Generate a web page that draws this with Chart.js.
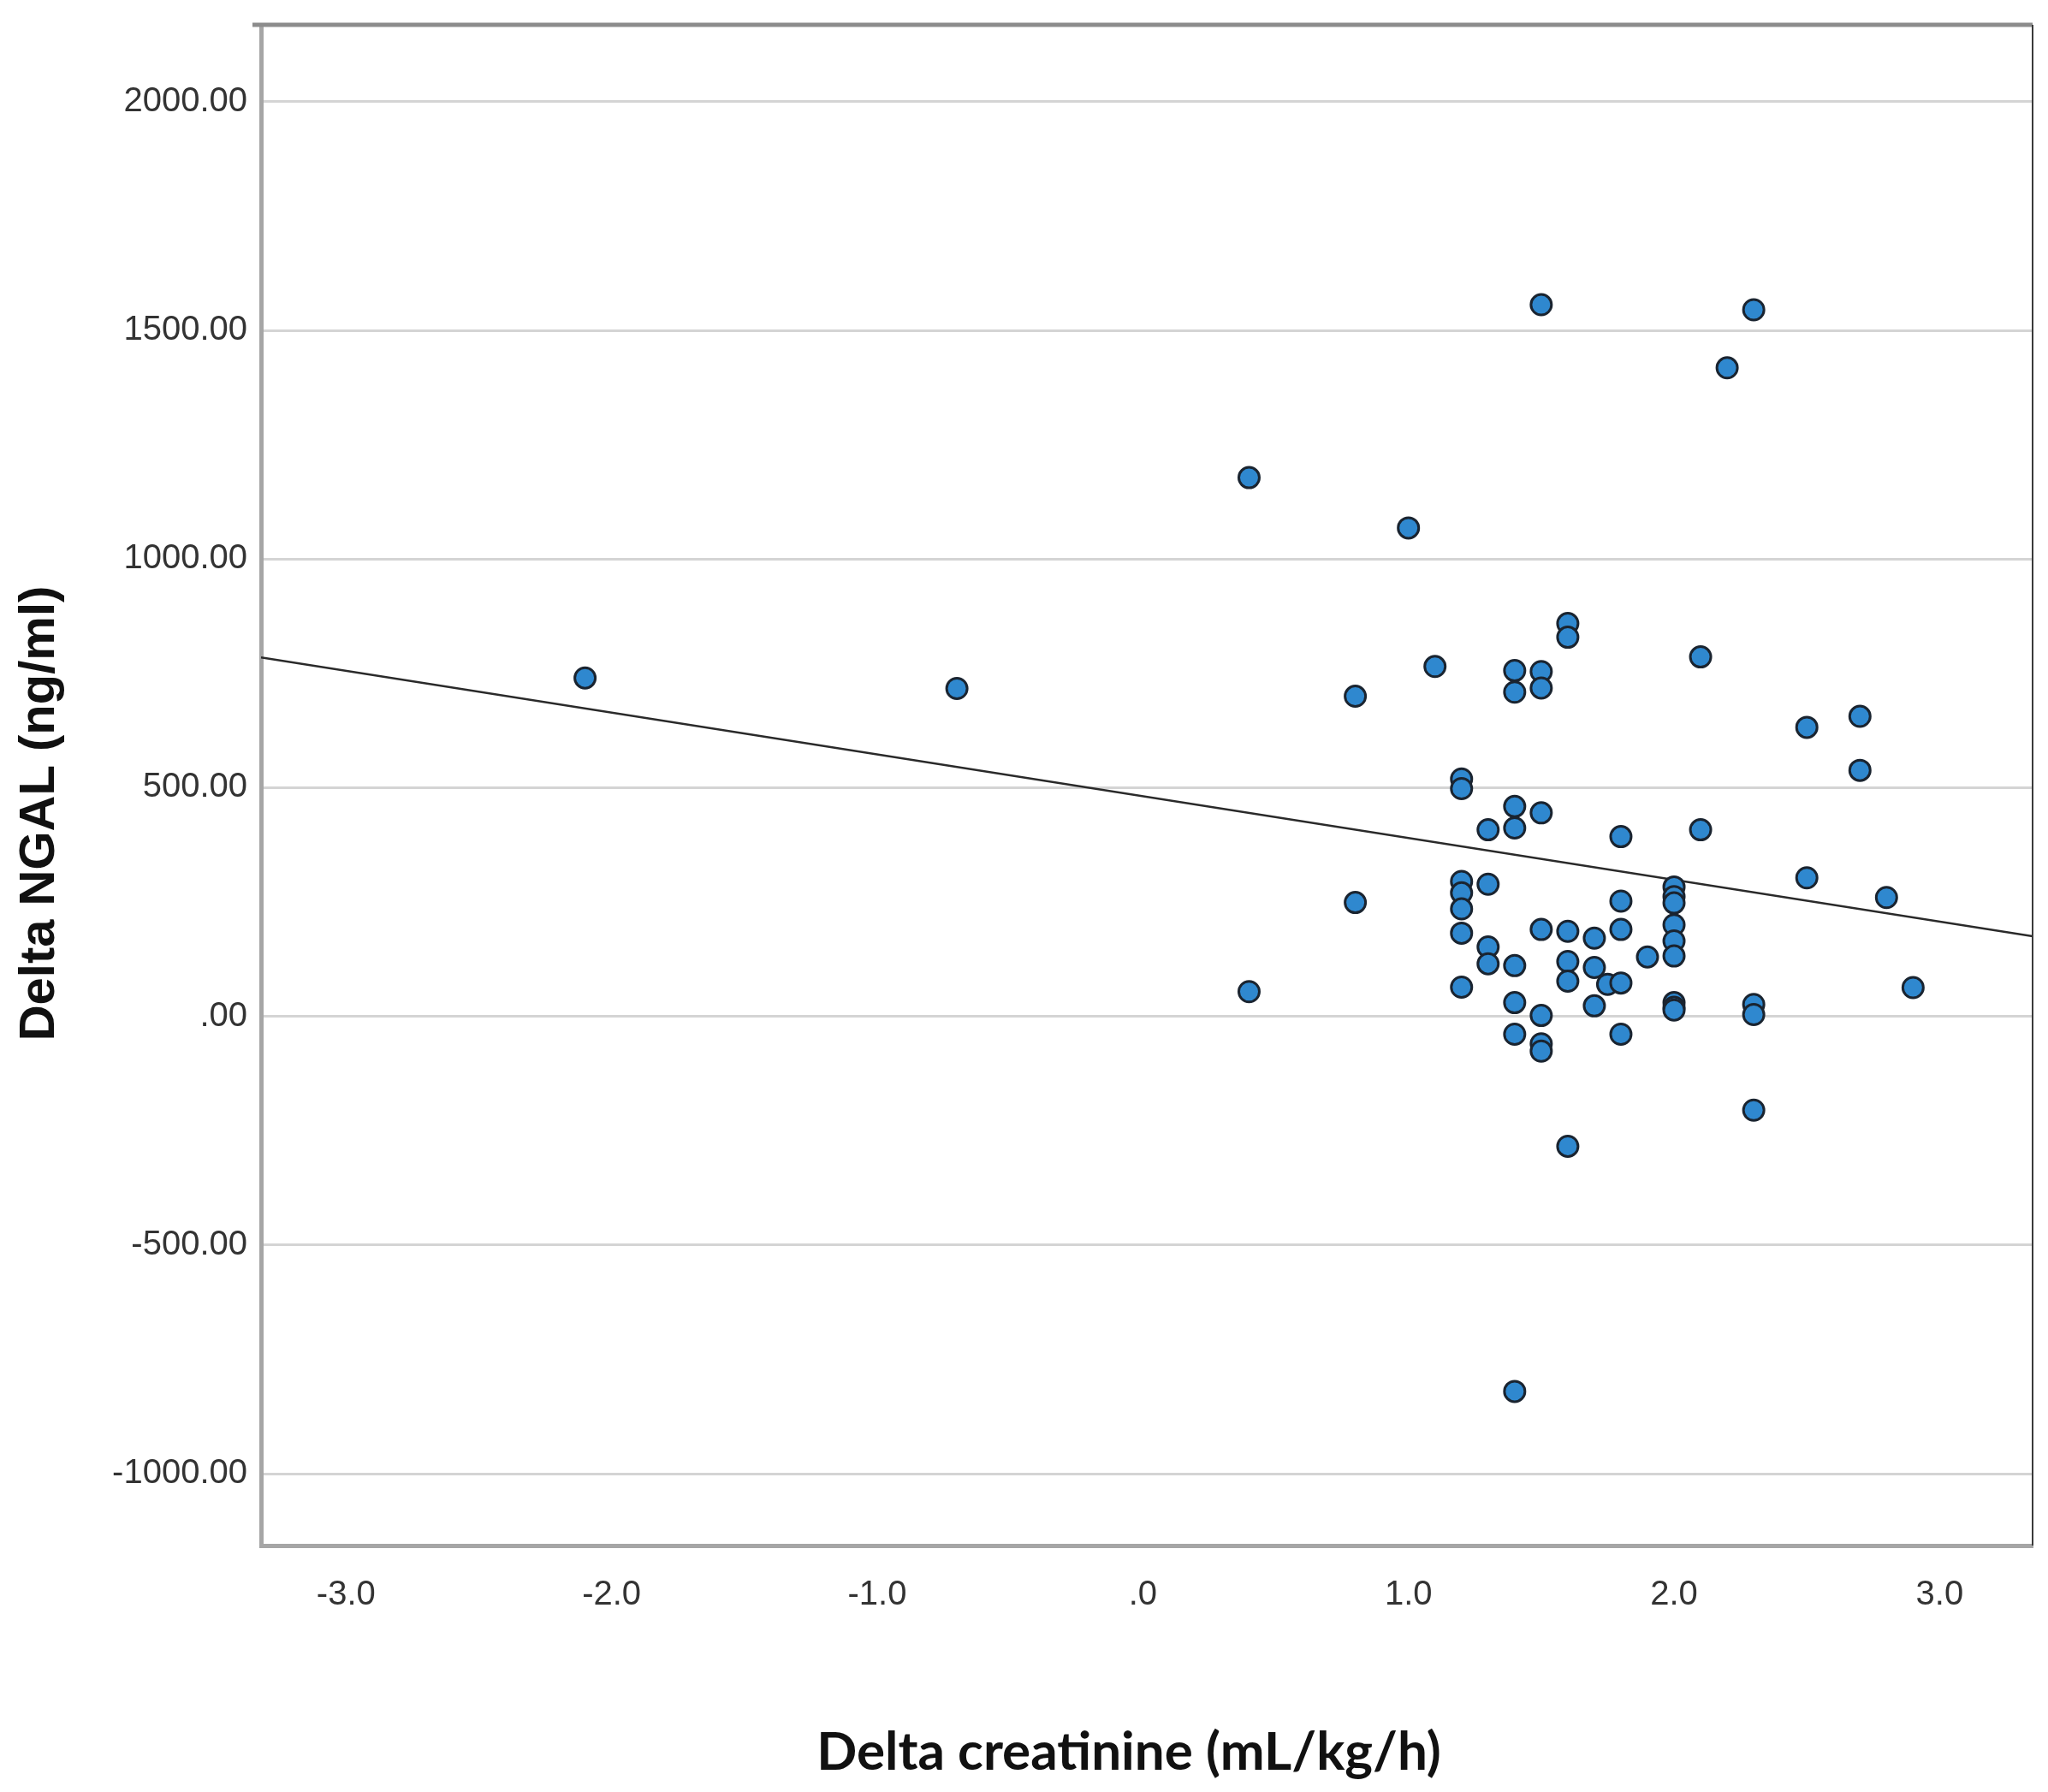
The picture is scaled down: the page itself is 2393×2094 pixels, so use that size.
<!DOCTYPE html>
<html>
<head>
<meta charset="utf-8">
<script src="https://cdn.jsdelivr.net/npm/chart.js@4.4.0/dist/chart.umd.min.js"></script>
<style>
  html, body { margin: 0; padding: 0; background: #ffffff; }
  canvas { display: block; }
</style>
</head>
<body>
<canvas id="c" width="2393" height="2094"></canvas>
<script>
// ---- data ----
const creatX = [
  -2.1, -0.7, 0.4, 0.4, 0.8, 0.8, 1.0, 1.1,
  1.2, 1.2, 1.2, 1.2, 1.2, 1.2, 1.2,
  1.3, 1.3, 1.3, 1.3,
  1.4, 1.4, 1.4, 1.4, 1.4, 1.4, 1.4, 1.4,
  1.5, 1.5, 1.5, 1.5, 1.5, 1.5, 1.5, 1.5,
  1.6, 1.6, 1.6, 1.6, 1.6, 1.6,
  1.7, 1.7, 1.7,
  1.75,
  1.8, 1.8, 1.8, 1.8, 1.8,
  1.9,
  2.0, 2.0, 2.0, 2.0, 2.0, 2.0, 2.0, 2.0, 2.0,
  2.1, 2.1,
  2.2,
  2.3, 2.3, 2.3, 2.3,
  2.5, 2.5,
  2.7, 2.7,
  2.8,
  2.9
];
const ngalY = [
  740, 717, 1178, 54, 700, 249, 1068, 765,
  519, 498, 295, 270, 235, 182, 64,
  408, 289, 152, 115,
  756, 709, 459, 412, 111, 30, -39, -820,
  1556, 754, 718, 445, 190, 2, -60, -76,
  859, 829, 186, 120, 77, -284,
  171, 107, 23,
  70,
  393, 252, 190, 73, -39,
  130,
  283, 262, 248, 200, 165, 132, 30, 20, 14,
  786, 408,
  1418,
  1545, 26, 4, -205,
  632, 303,
  656, 538,
  260,
  63
];
// linear fit line end points
const fitX = [-3.32, 3.35];
const fitY = [785, 175];

const xTicks = [-3, -2, -1, 0, 1, 2, 3];
const xTickLabels = ['-3.0', '-2.0', '-1.0', '.0', '1.0', '2.0', '3.0'];
const yTicks = [-1000, -500, 0, 500, 1000, 1500, 2000];
const yTickLabels = ['-1000.00', '-500.00', '.00', '500.00', '1000.00', '1500.00', '2000.00'];

const xTitle = 'Delta creatinine (mL/kg/h)';
const yTitle = 'Delta NGAL (ng/ml)';

// ---- chart ----
const points = creatX.map((x, i) => ({ x: x, y: ngalY[i] }));
const fitLine = fitX.map((x, i) => ({ x: x, y: fitY[i] }));

const frame = {
  id: 'frame',
  afterDraw(chart) {
    const { ctx, chartArea: a } = chart;
    ctx.save();
    ctx.strokeStyle = '#8c8c8c';
    ctx.lineWidth = 5;
    ctx.beginPath();
    ctx.moveTo(a.left - 10, a.top);
    ctx.lineTo(a.right, a.top);
    ctx.stroke();
    ctx.strokeStyle = '#3a3a3a';
    ctx.lineWidth = 2;
    ctx.beginPath();
    ctx.moveTo(a.right, a.top);
    ctx.lineTo(a.right, a.bottom);
    ctx.stroke();
    ctx.restore();
  }
};

function shiftTitle(scale, dx, dy) {
  if (!scale || scale._titleShifted) return;
  const orig = scale.drawTitle.bind(scale);
  scale.drawTitle = function () {
    const c = this.ctx;
    c.save();
    c.translate(dx, dy);
    orig();
    c.restore();
  };
  scale._titleShifted = true;
}
const titleShift = {
  id: 'titleShift',
  afterUpdate(chart) {
    shiftTitle(chart.scales.y, 0, 33);
    shiftTitle(chart.scales.x, -21, 0);
  }
};

new Chart(document.getElementById('c'), {
  type: 'scatter',
  data: {
    datasets: [
      {
        label: 'Delta NGAL',
        data: points,
        backgroundColor: '#2f88cf',
        borderColor: '#1a2430',
        borderWidth: 3,
        pointRadius: 12,
        pointHoverRadius: 12
      },
      {
        type: 'line',
        label: 'Fit',
        data: fitLine,
        borderColor: '#2a2a2a',
        borderWidth: 2.5,
        pointRadius: 0,
        fill: false,
        tension: 0
      }
    ]
  },
  options: {
    responsive: false,
    animation: false,
    devicePixelRatio: 1,
    layout: { padding: { top: 29, right: 18, left: 0, bottom: 0 } },
    plugins: { legend: { display: false }, tooltip: { enabled: false } },
    scales: {
      x: {
        type: 'linear',
        min: -3.32,
        max: 3.35,
        afterBuildTicks: s => { s.ticks = xTicks.map(v => ({ value: v })); },
        afterFit: s => { s.height = 2094 - 1806; s.paddingLeft = 0; s.paddingRight = 0; },
        ticks: {
          callback: (v, i) => xTickLabels[i],
          font: { family: 'Liberation Sans', size: 40 },
          color: '#333333',
          padding: 34,
          maxRotation: 0,
          autoSkip: false
        },
        grid: { display: false, drawTicks: false },
        border: { display: true, color: '#a6a6a6', width: 5 },
        title: {
          display: true,
          text: xTitle,
          font: { family: 'Lato', weight: 'bold', size: 62 },
          color: '#111111',
          padding: { top: 0, bottom: 9 }
        }
      },
      y: {
        type: 'linear',
        min: -1157,
        max: 2168,
        afterBuildTicks: s => { s.ticks = yTicks.map(v => ({ value: v })); },
        afterFit: s => { s.width = 305; s.paddingTop = 0; s.paddingBottom = 0; },
        ticks: {
          callback: (v, i) => yTickLabels[i],
          font: { family: 'Liberation Sans', size: 40 },
          color: '#333333',
          padding: 16,
          autoSkip: false
        },
        grid: { display: true, drawTicks: false, color: '#d4d4d4', lineWidth: 3 },
        border: { display: true, color: '#a6a6a6', width: 5 },
        title: {
          display: true,
          text: yTitle,
          font: { family: 'Liberation Sans', weight: 'bold', size: 58 },
          color: '#111111',
          padding: { top: 12, bottom: 0 }
        }
      }
    }
  },
  plugins: [frame, titleShift]
});
</script>
</body>
</html>
